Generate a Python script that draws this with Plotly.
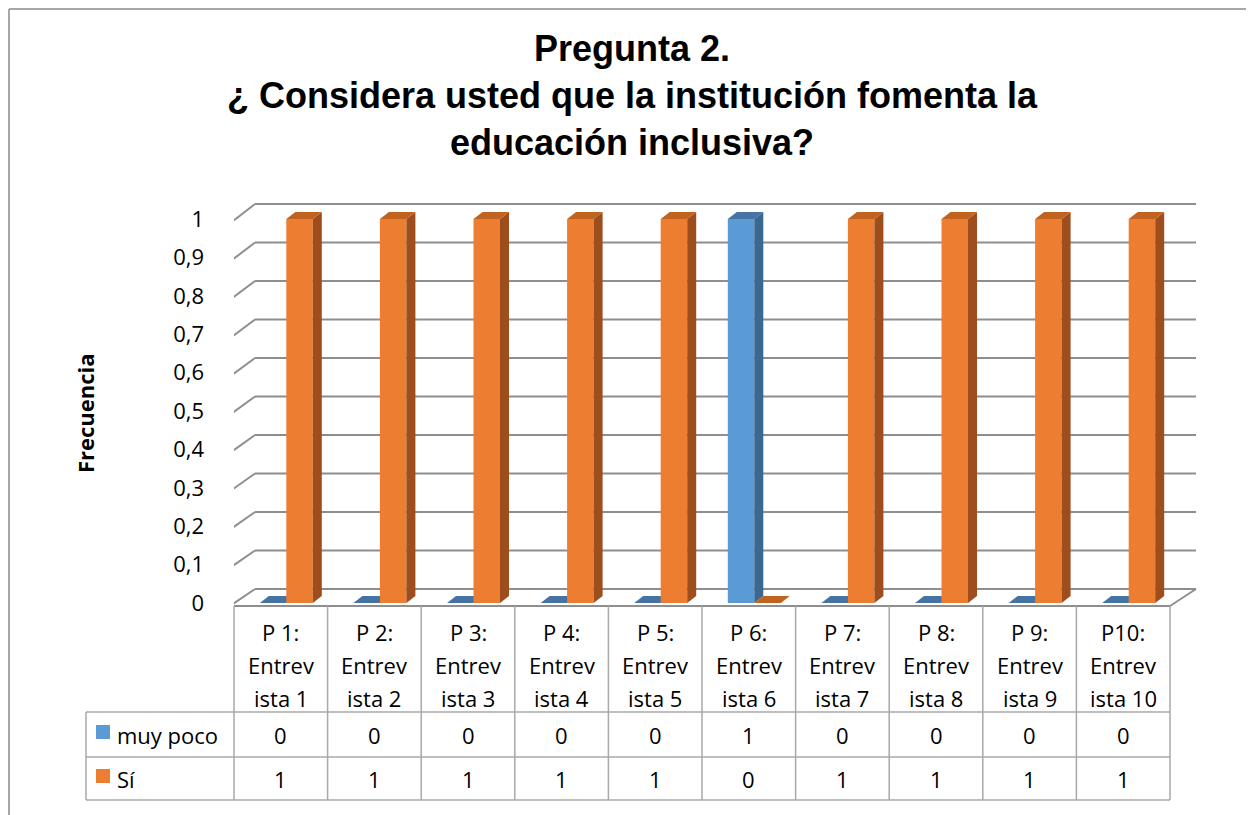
import plotly.graph_objects as go

# ---------------- data ----------------
cat_lines = [
    ["P 1:", "Entrev", "ista 1"], ["P 2:", "Entrev", "ista 2"], ["P 3:", "Entrev", "ista 3"],
    ["P 4:", "Entrev", "ista 4"], ["P 5:", "Entrev", "ista 5"], ["P 6:", "Entrev", "ista 6"],
    ["P 7:", "Entrev", "ista 7"], ["P 8:", "Entrev", "ista 8"], ["P 9:", "Entrev", "ista 9"],
    ["P10:", "Entrev", "ista 10"],
]
series_names = ["muy poco", "Sí"]
muy_poco = [0, 0, 0, 0, 0, 1, 0, 0, 0, 0]
si = [1, 1, 1, 1, 1, 0, 1, 1, 1, 1]
y_ticks = [0, 0.1, 0.2, 0.3, 0.4, 0.5, 0.6, 0.7, 0.8, 0.9, 1]
y_ticktext = ["0", "0,1", "0,2", "0,3", "0,4", "0,5", "0,6", "0,7", "0,8", "0,9", "1"]
title_text = "Pregunta 2.<br>¿ Considera usted que la institución fomenta la<br>educación inclusiva?"
y_title = "Frecuencia"

# ---------------- styles / geometry (screen pixels) ----------------
SW, SH = 1254, 815          # window
SX, SY = 8, 8               # page body margin offset of the figure div
W, H = SW - SX, SH - SY     # figure size
PL, PR, PT, PB = 234, 1200, 198, 610        # plot area box (screen px)
X0PX, UX = 234, 93.6                        # px of x=-0.5, px per category
Y0PX, UY = 603, 384                         # px of y=0, px per unit value
FRONT = {"muy poco": "#5B9BD5", "Sí": "#ED7D31"}
SIDE = {"muy poco": "#3B6791", "Sí": "#9E4E1C"}
TOP = {"muy poco": "#4573A3", "Sí": "#C2621F"}
GRID = "#8E8E8E"
TLINE = "#A8A8A8"
FONT = "Open Sans"
FS = 22

def ux(px):
    return -0.5 + (px - X0PX) / UX

def uy(py):
    return (Y0PX - py) / UY

def pxp(px):
    return (px - PL) / (PR - PL)

def pyp(py):
    return (PB - py) / (PB - PT)

BW = 26.5 / UX
OFFS = {"muy poco": -21 / UX, "Sí": 5.5 / UX}
DX, DY = 9 / UX, 7 / UY

fig = go.Figure()

axes = {"muy poco": ("x", "y"), "Sí": ("x2", "y2")}
for name, vals in zip(series_names, [muy_poco, si]):
    xa, ya = axes[name]
    off = OFFS[name]
    xs = list(range(len(vals)))
    fig.add_trace(go.Bar(x=xs, y=vals, width=BW, offset=off, name=name,
                         marker=dict(color=FRONT[name], line=dict(width=0)),
                         xaxis=xa, yaxis=ya, hoverinfo="skip", showlegend=False))
    sx, sy, tx, ty = [], [], [], []
    for i, v in enumerate(vals):
        x0 = i + off
        x1 = x0 + BW
        sx += [x1, x1 + DX, x1 + DX, x1, x1, None]
        sy += [0, DY, v + DY, v, 0, None]
        tx += [x0, x0 + DX, x1 + DX, x1, x0, None]
        ty += [v, v + DY, v + DY, v, v, None]
    fig.add_trace(go.Scatter(x=sx, y=sy, mode="lines", fill="toself", fillcolor=SIDE[name],
                             line=dict(width=0, color=SIDE[name]), xaxis=xa, yaxis=ya,
                             hoverinfo="skip", showlegend=False))
    fig.add_trace(go.Scatter(x=tx, y=ty, mode="lines", fill="toself", fillcolor=TOP[name],
                             line=dict(width=0, color=TOP[name]), xaxis=xa, yaxis=ya,
                             hoverinfo="skip", showlegend=False))

shapes = []
# back wall gridlines and left wall
for v in y_ticks:
    yb = uy(589 - v * 385)
    yf = uy(604 - v * 383)
    shapes.append(dict(type="line", xref="x", yref="y", x0=ux(255), x1=ux(1196), y0=yb, y1=yb,
                       line=dict(color=GRID, width=2), layer="below"))
    shapes.append(dict(type="line", xref="x", yref="y", x0=ux(233), x1=ux(255), y0=yf, y1=yb,
                       line=dict(color=GRID, width=2), layer="below"))
shapes.append(dict(type="line", xref="x", yref="y", x0=ux(233), x1=ux(233), y0=uy(606), y1=uy(221),
                   line=dict(color=GRID, width=2), layer="below"))
# floor
shapes.append(dict(type="line", xref="x", yref="y", x0=ux(233), x1=ux(1170), y0=uy(606), y1=uy(606),
                   line=dict(color=GRID, width=2), layer="below"))
shapes.append(dict(type="line", xref="x", yref="y", x0=ux(1170), x1=ux(1196), y0=uy(606), y1=uy(589),
                   line=dict(color=GRID, width=2), layer="below"))

# data table lines
n = len(cat_lines)
col_px = [X0PX + UX * k for k in range(n + 1)]
for ypx in [712, 757, 800]:
    shapes.append(dict(type="line", xref="paper", yref="paper", x0=pxp(86), x1=pxp(col_px[-1]),
                       y0=pyp(ypx), y1=pyp(ypx), line=dict(color=TLINE, width=1.5)))
shapes.append(dict(type="line", xref="paper", yref="paper", x0=pxp(86), x1=pxp(86),
                   y0=pyp(712), y1=pyp(800), line=dict(color=TLINE, width=1.5)))
for cx in col_px:
    shapes.append(dict(type="line", xref="paper", yref="paper", x0=pxp(cx), x1=pxp(cx),
                       y0=pyp(606), y1=pyp(800), line=dict(color=TLINE, width=1.5)))
# legend keys
for name, ytop in zip(series_names, [725, 769]):
    shapes.append(dict(type="rect", xref="paper", yref="paper", x0=pxp(96), x1=pxp(110),
                       y0=pyp(ytop), y1=pyp(ytop + 14), fillcolor=FRONT[name], line=dict(width=0)))
# outer chart border
shapes.append(dict(type="line", xref="paper", yref="paper", x0=pxp(SX + 1), x1=pxp(SX + 1),
                   y0=pyp(SY + 1), y1=pyp(SH + 5), line=dict(color="#8A8A8A", width=1.5)))
shapes.append(dict(type="line", xref="paper", yref="paper", x0=pxp(SX + 1), x1=pxp(SW + 5),
                   y0=pyp(SY + 1), y1=pyp(SY + 1), line=dict(color="#8A8A8A", width=1.5)))

annotations = []
for i, lines in enumerate(cat_lines):
    cx = X0PX + UX * (i + 0.5)
    for j, t in enumerate(lines):
        annotations.append(dict(xref="paper", yref="paper", x=pxp(cx), y=pyp(632 + 33 * j),
                                text=t, showarrow=False, xanchor="center", yanchor="middle",
                                font=dict(family=FONT, size=FS, color="black")))
for r, (name, vals) in enumerate(zip(series_names, [muy_poco, si])):
    yc = 735 + 44 * r
    annotations.append(dict(xref="paper", yref="paper", x=pxp(115), y=pyp(yc), text=name,
                            showarrow=False, xanchor="left", yanchor="middle",
                            font=dict(family=FONT, size=FS, color="black")))
    for i, v in enumerate(vals):
        cx = X0PX + UX * (i + 0.5)
        annotations.append(dict(xref="paper", yref="paper", x=pxp(cx), y=pyp(yc), text=str(v),
                                showarrow=False, xanchor="center", yanchor="middle",
                                font=dict(family=FONT, size=FS, color="black")))
annotations.append(dict(xref="paper", yref="paper", x=pxp(85), y=pyp(413), text="<b>" + y_title + "</b>",
                        textangle=-90, showarrow=False, xanchor="center", yanchor="middle",
                        font=dict(family=FONT, size=22, color="black")))

xr = [-0.5, -0.5 + (PR - PL) / UX]
yr = [(Y0PX - PB) / UY, (Y0PX - PT) / UY]
fig.update_layout(
    width=W, height=H, autosize=False,
    margin=dict(l=PL - SX, r=SW - PR, t=PT - SY, b=SH - PB, pad=0, autoexpand=False),
    paper_bgcolor="white", plot_bgcolor="rgba(0,0,0,0)",
    barmode="overlay", showlegend=False,
    title=dict(text="<b>" + title_text + "</b>", x=(632 - SX) / W, xanchor="center",
               y=1 - 53 / H, yanchor="top", yref="container",
               font=dict(family="Liberation Sans", size=36, color="black")),
    xaxis=dict(range=xr, visible=False, fixedrange=True, automargin=False),
    xaxis2=dict(range=xr, visible=False, overlaying="x", fixedrange=True),
    yaxis=dict(range=yr, tickvals=y_ticks, ticktext=y_ticktext, showgrid=False, zeroline=False,
               showline=False, ticks="", ticklabelstandoff=29, automargin=False,
               tickfont=dict(family=FONT, size=FS, color="black"), fixedrange=True),
    yaxis2=dict(range=yr, visible=False, overlaying="y", fixedrange=True),
    shapes=shapes, annotations=annotations,
)

fig.write_html("out.html")
